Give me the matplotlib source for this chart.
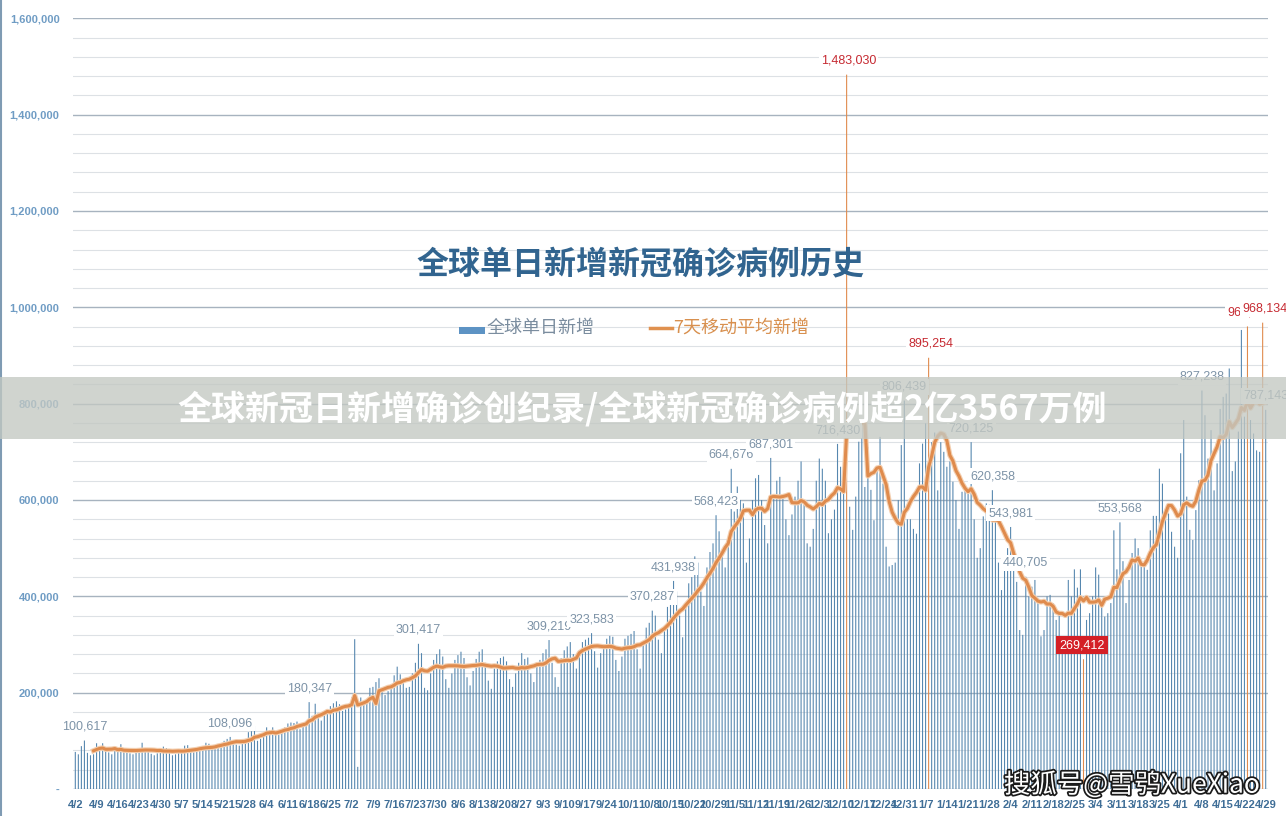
import numpy as np
import pandas as pd
import matplotlib
matplotlib.use("Agg")
import matplotlib.pyplot as plt
import matplotlib.patheffects as pe
from matplotlib.patches import Rectangle
from matplotlib.lines import Line2D

CJK = ["Noto Sans CJK SC", "DejaVu Sans"]
NARROW = ["Liberation Sans Narrow", "Liberation Sans", "DejaVu Sans"]
SANS = ["Liberation Sans", "DejaVu Sans"]

# daily new global cases (thousands), 2020-04-02 .. 2021-04-29
apr20 = [77, 72, 89, 100.617, 75, 70, 72, 95, 88, 95, 82, 76, 72, 80, 78, 93, 83, 80, 74, 72,
         79, 81, 96, 85, 80, 73, 70, 74, 82]
may20 = [88, 85, 79, 70, 72, 76, 80, 90, 91, 84, 76, 78, 86, 88, 96, 94, 87, 83, 91, 95,
         100, 104, 108.096, 98, 92, 90, 97, 104, 118, 120, 131]
jun20 = [100, 104, 112, 128, 122, 128, 120, 112, 118, 128, 136, 138, 137, 140, 124, 130, 141,
         180.347, 152, 177, 158, 142, 152, 166, 172, 178, 182, 176, 162, 165]
jul20 = [172, 190, 311, 46, 190, 178, 185, 210, 212, 222, 230, 205, 195, 203, 218, 236, 254,
         238, 228, 210, 212, 240, 262, 301.417, 282, 210, 205, 240, 268, 280, 290]
aug20 = [275, 228, 210, 240, 268, 278, 285, 272, 232, 215, 245, 270, 285, 290, 262, 225, 208,
         250, 265, 272, 275, 265, 228, 212, 240, 262, 282, 270, 273, 240, 222]
sep20 = [258, 268, 282, 290, 309.219, 262, 232, 212, 272, 288, 296, 305, 280, 250, 288, 305,
         310, 314, 323.583, 286, 252, 282, 300, 312, 318, 316, 268, 245, 275, 312]
oct20 = [318, 322, 328, 290, 250, 300, 335, 345, 370.287, 360, 310, 282, 330, 378, 392,
         431.938, 410, 360, 315, 385, 427, 440, 483, 470, 410, 380, 460, 492, 510, 568.423, 535]
nov20 = [483, 460, 520, 664.676, 576, 628, 600, 593, 470, 520, 600, 645, 652, 600, 548, 510,
         687.301, 610, 640, 648, 607, 560, 527, 570, 607, 640, 680, 590, 510, 503]
dec20 = [540, 640, 686, 665, 640, 531, 560, 580, 716.430, 669, 627, 1483.030, 586, 538, 607,
         721, 759, 627, 710, 621, 558, 669, 731, 634, 503, 462, 465, 470, 600, 714, 806.439]
jan21 = [560, 560, 540, 530, 676, 717, 759, 895.254, 720, 740, 620, 720, 700, 669, 680, 638,
         600, 540, 617, 627, 620, 720.125, 560, 480, 500, 566, 593, 590, 620.358, 560, 470]
feb21 = [413, 470, 500, 543.981, 469, 430, 330, 320, 440.705, 400, 420, 434, 386, 317, 330,
         400, 403, 386, 351, 365, 317, 300, 434, 400, 456, 418, 456, 269.412]
mar21 = [351, 365, 400, 460, 445, 380, 358, 365, 386, 537, 456, 553.568, 473, 386, 434, 490,
         520, 500, 462, 465, 455, 537, 567, 567, 665, 634, 579, 572, 534, 503, 480]
apr21 = [697, 766, 607, 538, 517, 579, 641, 827.238, 776, 686, 745, 620, 676, 789, 814, 821,
         873, 660, 680, 742, 953, 773, 960.317, 766, 738, 703, 700, 968.134, 787.143]

week_labels = ["4/2", "4/9", "4/16", "4/23", "4/30", "5/7", "5/14", "5/21", "5/28", "6/4",
               "6/11", "6/18", "6/25", "7/2", "7/9", "7/16", "7/23", "7/30", "8/6", "8/13",
               "8/20", "8/27", "9/3", "9/10", "9/17", "9/24", "10/1", "10/8", "10/15", "10/22",
               "10/29", "11/5", "11/12", "11/19", "11/26", "12/3", "12/10", "12/17", "12/24",
               "12/31", "1/7", "1/14", "1/21", "1/28", "2/4", "2/11", "2/18", "2/25", "3/4",
               "3/11", "3/18", "3/25", "4/1", "4/8", "4/15", "4/22", "4/29"]

# day index (0 = 4/2) of the labelled bars
labeled_days = [3, 51, 77, 113, 156, 170, 190, 197, 211, 216, 229, 251, 273, 295, 302, 308,
                313, 344, 371, 392]
record_days = [254, 281, 386, 391]
low_day = 332

TITLE = "全球单日新增新冠确诊病例历史"
LEGEND_BAR = "全球单日新增"
LEGEND_LINE = "7天移动平均新增"
BANNER = "全球新冠日新增确诊创纪录/全球新冠确诊病例超2亿3567万例"
WATERMARK = "搜狐号@雪鸮XueXiao"

BLUE = "#5687af"
ORANGE = "#e08a4c"


def main():
    daily = np.array(apr20 + may20 + jun20 + jul20 + aug20 + sep20 + oct20 + nov20 + dec20
                     + jan21 + feb21 + mar21 + apr21) * 1000
    days = np.arange(len(daily))
    avg7 = pd.Series(daily).rolling(7).mean()

    W, H = 1286, 816
    fig = plt.figure(figsize=(W / 100, H / 100), dpi=100)
    fig.patch.set_facecolor("white")
    ax = fig.add_axes([72.7 / W, 1 - 789 / H, (1268 - 72.7) / W, (789 - 18.3) / H])
    ax.set_xlim(-0.86, 392.76)
    ax.set_ylim(0, 1600000)

    for s in ax.spines.values():
        s.set_visible(False)
    ax.set_yticks(np.arange(0, 1600001, 200000))
    ax.set_yticks(np.arange(0, 1600001, 40000), minor=True)
    ax.set_yticklabels(["-"] + [f"{v:,}" for v in range(200000, 1600001, 200000)],
                       family=SANS, weight="bold", fontsize=8, color="#6f9cc4")
    ax.grid(axis="y", which="minor", color="#dde1e5", lw=0.8, zorder=0)
    ax.grid(axis="y", which="major", color="#a7b3bf", lw=1.0, zorder=0)
    ax.set_axisbelow(True)
    ax.set_xticks(days[::7])
    ax.set_xticklabels(week_labels, family=SANS, weight="bold", fontsize=8, color="#3f6e97")
    ax.tick_params(axis="both", which="both", length=0)
    ax.tick_params(axis="y", pad=9.5)
    ax.tick_params(axis="x", pad=8)

    colors = [BLUE] * len(daily)
    for d in record_days + [low_day]:
        colors[d] = ORANGE
    bars = ax.bar(days, daily, width=0.36, color=colors, linewidth=0, zorder=2)
    for b in bars:
        b.set_snap(False)

    ax.plot(days, avg7, color="#df8b4d", lw=2.2, zorder=3, solid_joinstyle="round",
            path_effects=[pe.Stroke(linewidth=3.8, foreground="#f3cfb0"), pe.Normal()])

    box = dict(boxstyle="square,pad=0.15", facecolor="white", edgecolor="none")
    for d in labeled_days:
        ax.annotate(f"{daily[d]:,.0f}", xy=(d, daily[d]), xytext=(0, 10), textcoords="offset points",
                    ha="center", va="center", fontsize=9, family=NARROW, color="#7d93a7",
                    bbox=box, zorder=5)
    for d in record_days:
        ax.annotate(f"{daily[d]:,.0f}", xy=(d, daily[d]), xytext=(1.5, 10), textcoords="offset points",
                    ha="center", va="center", fontsize=9, family=NARROW, color="#c62a32",
                    bbox=box, zorder=5)
    ax.annotate(f"{daily[low_day]:,.0f}", xy=(low_day, daily[low_day]), xytext=(-1, 10),
                textcoords="offset points", ha="center", va="center", fontsize=9, family=NARROW,
                color="white", zorder=5,
                bbox=dict(boxstyle="square,pad=0.25", facecolor="#d41f26", edgecolor="none"))

    # title and legend
    fig.text(640 / W, 1 - 264 / H, TITLE, ha="center", va="center", fontsize=23, weight="bold",
             color="#31648f", family=CJK)
    fig.add_artist(Rectangle((459 / W, 1 - 334 / H), 26 / W, 7 / H, transform=fig.transFigure,
                             facecolor="#5d93c4", edgecolor="none"))
    fig.text(487 / W, 1 - 328 / H, LEGEND_BAR, ha="left", va="center", fontsize=13,
             color="#7b8d9f", family=CJK)
    fig.add_artist(Line2D([650 / W, 672 / W], [1 - 328 / H] * 2, transform=fig.transFigure,
                          color="#e0914f", lw=2.5))
    fig.text(673 / W, 1 - 328 / H, LEGEND_LINE, ha="left", va="center", fontsize=13,
             color="#d8904f", family=CJK)

    # overlay banner
    fig.add_artist(Rectangle((0, 1 - 439 / H), 1, 62 / H, transform=fig.transFigure,
                             facecolor="#c3c8c2", edgecolor="none", alpha=0.78, zorder=10))
    fig.text(642 / W, 1 - 409 / H, BANNER, ha="center", va="center", fontsize=24.5,
             weight="bold", color="white", family=CJK, zorder=11)

    fig.text(1132 / W, 1 - 785 / H, WATERMARK, ha="center", va="center", fontsize=19,
             color="white", family=CJK, zorder=11,
             path_effects=[pe.withStroke(linewidth=2.5, foreground="#1a1a1a")])

    fig.add_artist(Line2D([1 / W, 1 / W], [0, 1], transform=fig.transFigure, color="#7f9bb3", lw=1.5))

    fig.savefig("out.png", dpi=100)
    plt.close(fig)


if __name__ == "__main__":
    main()
